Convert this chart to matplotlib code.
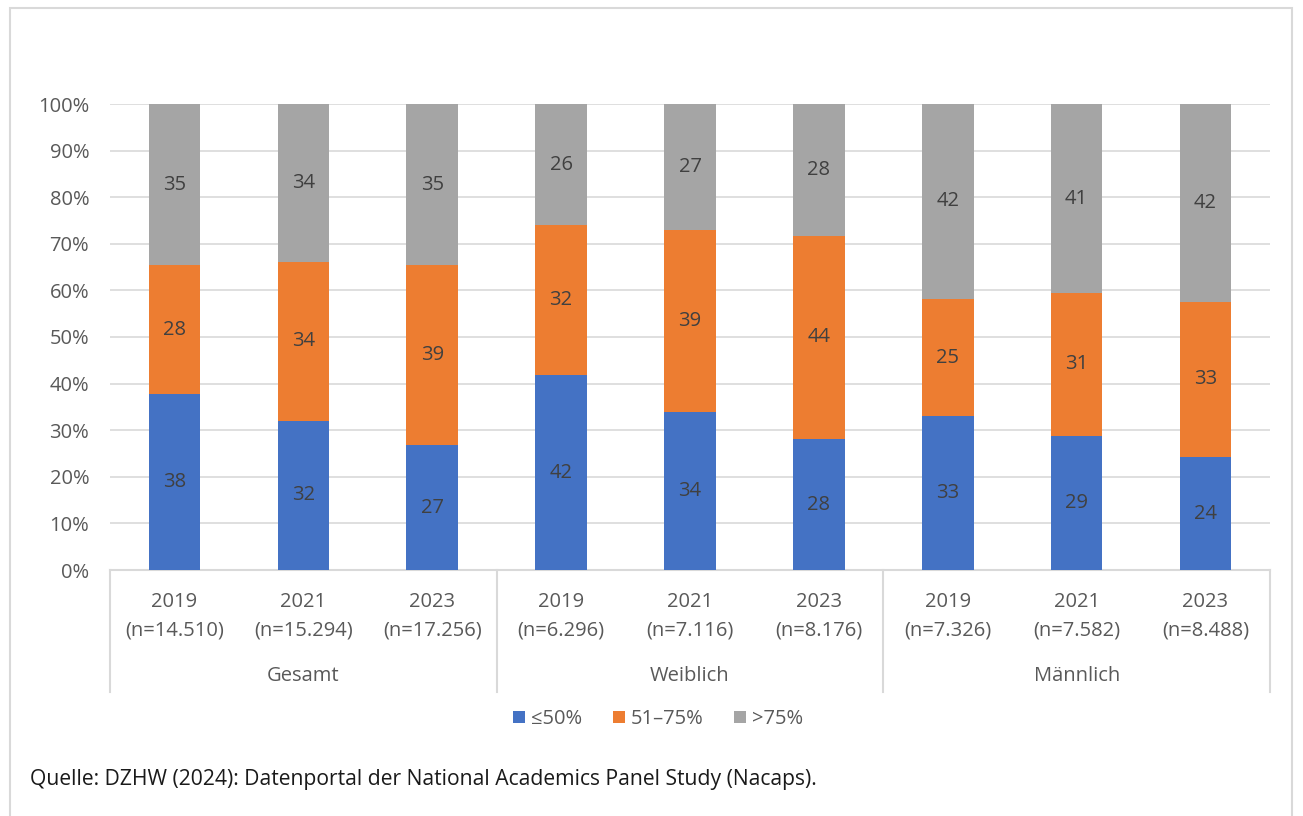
import numpy as np
import matplotlib
matplotlib.use('Agg')
import matplotlib.pyplot as plt
from matplotlib.patches import Patch, Rectangle
import matplotlib.transforms as mtransforms

# ── data ─────────────────────────────────────────────────────────────────────

groups = ['Gesamt', 'Weiblich', 'Männlich']
years = ['2019', '2021', '2023'] * 3
sizes = ['14.510', '15.294', '17.256',
         '6.296', '7.116', '8.176',
         '7.326', '7.582', '8.488']

low = [37.8, 32.0, 26.8, 41.8, 33.9, 28.1, 33.0, 28.8, 24.2]    # ≤50%
mid = [27.6, 34.1, 38.6, 32.2, 39.1, 43.6, 25.2, 30.6, 33.4]    # 51–75%
high = [34.6, 33.9, 34.6, 26.0, 27.0, 28.3, 41.8, 40.6, 42.4]   # >75%

series = [('≤50%', low, '#4472C4'),
          ('51–75%', mid, '#ED7D31'),
          ('>75%', high, '#A5A5A5')]

# ── figure ───────────────────────────────────────────────────────────────────

plt.rcParams['font.family'] = ['Open Sans', 'DejaVu Sans']
TXT = '#595959'
FS = 14.5

fig = plt.figure(figsize=(13.03, 8.16), dpi=100)
fig.patches.append(Rectangle((10 / 1303, -0.05), 1282 / 1303, 0.05 + 808 / 816,
                             transform=fig.transFigure, fill=False,
                             edgecolor='#D9D9D9', linewidth=1.5))

ax = fig.add_axes([110 / 1303, 246 / 816, 1160 / 1303, 466 / 816])

x = np.arange(len(years))
bottom = np.zeros(len(years))
for label, vals, color in series:
    vals = np.array(vals)
    ax.bar(x, vals, 0.40, bottom=bottom, color=color, label=label, zorder=3)
    for xi, b, v in zip(x, bottom, vals):
        ax.text(xi, b + v / 2, f'{round(v)}', ha='center', va='center',
                fontsize=FS, color='#404040', zorder=4)
    bottom += vals

ax.set_xlim(-0.5, len(years) - 0.5)
ax.set_ylim(0, 100)
ax.set_yticks(np.arange(0, 101, 10))
ax.set_yticklabels([f'{v}%' for v in range(0, 101, 10)])
ax.set_xticks(x)
ax.set_xticklabels([f'{y}\n(n={n})' for y, n in zip(years, sizes)],
                   linespacing=1.55)
ax.tick_params(axis='both', length=0, labelsize=FS, colors=TXT)
ax.tick_params(axis='x', pad=16)
ax.tick_params(axis='y', pad=15)

ax.grid(axis='y', color='#D9D9D9', linewidth=1.2, zorder=0)
for s in ['top', 'right', 'left']:
    ax.spines[s].set_visible(False)
ax.spines['bottom'].set_color('#D9D9D9')
ax.spines['bottom'].set_linewidth(1.5)

# group separators and labels
trans = mtransforms.blended_transform_factory(ax.transData, ax.transAxes)
for xs in [-0.5, 2.5, 5.5, 8.5]:
    ax.plot([xs, xs], [0, -0.262], color='#D9D9D9', linewidth=1.5,
            transform=trans, clip_on=False)
for i, g in enumerate(groups):
    ax.text(3 * i + 1, -0.227, g, ha='center', va='center', fontsize=FS,
            color=TXT, transform=trans)

handles = [Patch(facecolor=c, label=l) for l, _, c in series]
fig.legend(handles=handles, loc='center', bbox_to_anchor=(0.505, 1 - 719 / 816),
           ncol=3, frameon=False, fontsize=FS, labelcolor=TXT,
           handlelength=0.6, handleheight=0.6, handletextpad=0.3,
           columnspacing=1.5)

fig.text(30 / 1303, 1 - 780 / 816,
         'Quelle: DZHW (2024): Datenportal der National Academics Panel Study (Nacaps).',
         ha='left', va='center', fontsize=15.2, color='#1a1a1a')

fig.savefig('out.png', dpi=100)
